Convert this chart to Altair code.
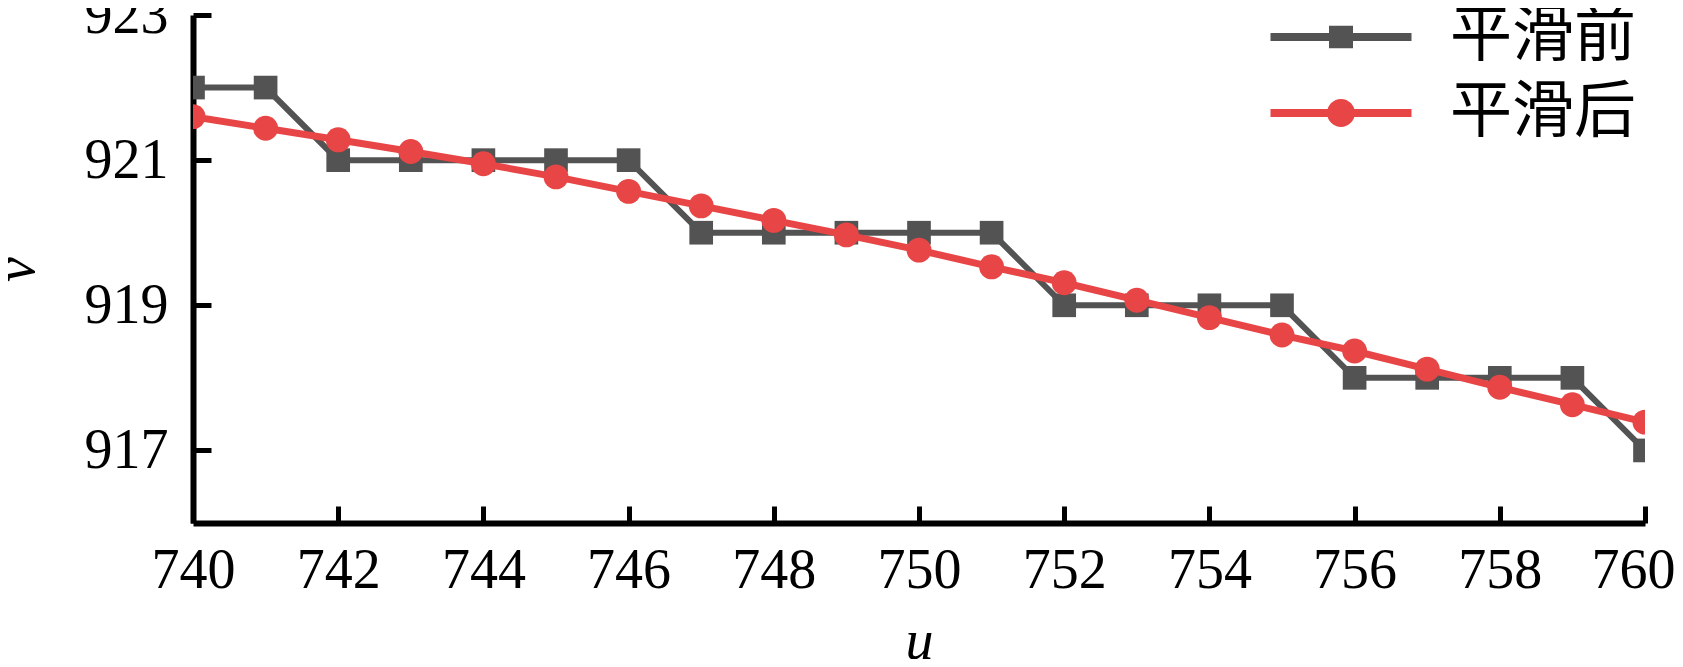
import altair as alt
import pandas as pd

u_vals = list(range(740, 761))
before = [922, 922, 921, 921, 921, 921, 921, 920, 920, 920, 920, 920,
          919, 919, 919, 919, 918, 918, 918, 918, 917]
after = [921.60, 921.44, 921.28, 921.12, 920.95, 920.77, 920.57, 920.37,
         920.17, 919.97, 919.76, 919.53, 919.31, 919.07, 918.83, 918.59,
         918.37, 918.12, 917.87, 917.63, 917.39]
series_names = ["平滑前", "平滑后"]
x_ticks = list(range(740, 761, 2))
y_ticks = [917, 919, 921, 923]

GRAY = "#525352"
RED = "#E84646"
W, H = 1452, 508

df = pd.DataFrame(
    {"u": u_vals * 2,
     "v": before + after,
     "series": [series_names[0]] * len(u_vals) + [series_names[1]] * len(u_vals)}
)

xs = alt.Scale(domain=[740, 760], nice=False, zero=False)
ys = alt.Scale(domain=[916, 923], nice=False, zero=False)

main_x = alt.X("u:Q", scale=xs, axis=alt.Axis(
    values=x_ticks, ticks=False, grid=False, domainColor="black", domainWidth=6,
    labelFont="Liberation Serif", labelFontSize=56, labelColor="black",
    labelPadding=20, labelFlush=False,
    labelOffset={"condition": {"test": "datum.value == 760", "value": -12}, "value": 0},
    title="u", titleFont="Liberation Serif",
    titleFontStyle="italic", titleFontWeight="normal", titleFontSize=56,
    titleColor="black", titleY=135, titleBaseline="alphabetic"))
main_y = alt.Y("v:Q", scale=ys, axis=alt.Axis(
    values=y_ticks, ticks=False, grid=False, domainColor="black", domainWidth=6,
    labelFont="Liberation Serif", labelFontSize=56, labelColor="black",
    labelPadding=25, labelFlush=False, title="v", titleFont="Liberation Serif",
    titleFontStyle="italic", titleFontWeight="normal", titleFontSize=56,
    titleColor="black", titleX=-160, titleY=254, titleBaseline="alphabetic",
    titleAngle=270))

nx = alt.X("u:Q", scale=xs, axis=None)
ny = alt.Y("v:Q", scale=ys, axis=None)

base = alt.Chart(df)

gray_line = base.transform_filter(alt.datum.series == series_names[0]).mark_line(
    color=GRAY, strokeWidth=6, clip=True).encode(x=main_x, y=main_y)
gray_pts = base.transform_filter(alt.datum.series == series_names[0]).mark_point(
    shape="square", filled=True, color=GRAY, size=560, opacity=1, clip=True).encode(x=nx, y=ny)
red_line = base.transform_filter(alt.datum.series == series_names[1]).mark_line(
    color=RED, strokeWidth=7, clip=True).encode(x=nx, y=ny)
red_pts = base.transform_filter(alt.datum.series == series_names[1]).mark_point(
    shape="circle", filled=True, color=RED, size=620, opacity=1, clip=True).encode(x=nx, y=ny)

sq_path = "M-4.7,-0.27H4.7V0.27H-4.7Z M-0.8,-0.75H0.8V0.75H-0.8Z"
ci_path = ("M-4.7,-0.27H4.7V0.27H-4.7Z "
           "M-0.93,0A0.93,0.93 0 1,1 0.93,0A0.93,0.93 0 1,1 -0.93,0Z")

legend = alt.Legend(
    title=None, orient="none", legendX=1117, legendY=-9, padding=0,
    symbolSize=900, symbolStrokeWidth=0, labelOffset=78, rowPadding=14,
    labelFont="Noto Sans CJK SC", labelFontSize=62, labelColor="black",
    labelLimit=400)

legend_layer = base.transform_filter("false").mark_point(
    filled=True, size=900, opacity=1, strokeWidth=0).encode(
    x=alt.X("u:Q", scale=xs, axis=alt.Axis(
        orient="top", offset=-H, values=x_ticks, labels=False, domain=False,
        domainColor="transparent", gridColor="transparent",
        grid=False, ticks=True, tickSize=17, tickWidth=5, tickColor="black", title=None)),
    y=alt.Y("v:Q", scale=ys, axis=alt.Axis(
        orient="right", offset=-W, values=y_ticks, labels=False, domain=False,
        domainColor="transparent", gridColor="transparent",
        grid=False, ticks=True, tickSize=18, tickWidth=5, tickColor="black", title=None)),
    color=alt.Color("series:N", scale=alt.Scale(domain=series_names, range=[GRAY, RED]),
                    legend=legend),
    shape=alt.Shape("series:N", scale=alt.Scale(domain=series_names, range=[sq_path, ci_path]),
                    legend=legend),
)

chart = alt.layer(gray_line, gray_pts, red_line, red_pts, legend_layer).resolve_axis(
    x="independent", y="independent"
).properties(
    width=W, height=H,
    view=alt.ViewBackground(stroke="transparent", strokeWidth=0),
    autosize=alt.AutoSizeParams(type="none"),
    padding={"left": 185, "top": 7, "right": 30, "bottom": 136},
).configure_view(stroke="transparent", strokeWidth=0).configure_axis(
    grid=False
).configure(background="white")

chart.save("out.html", embed_options={"renderer": "svg", "actions": False})
